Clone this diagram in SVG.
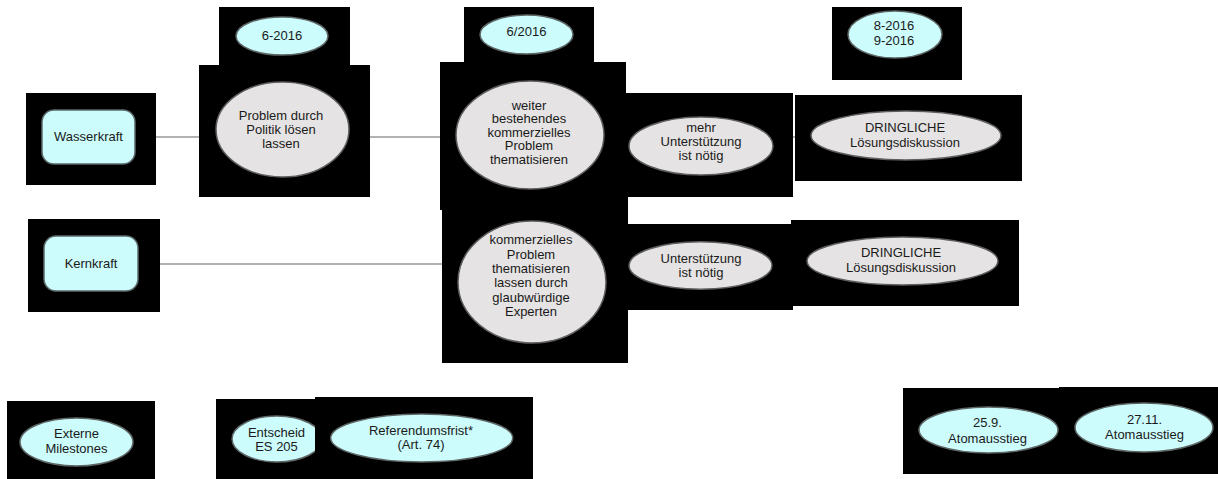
<svg xmlns="http://www.w3.org/2000/svg" width="1218" height="479" viewBox="0 0 1218 479">
  <style>
    .box { fill: #000000; }
    .topic { fill: #ccfcfc; stroke: #5b6a6a; stroke-width: 1.5; }
    .step { fill: #e5e3e3; stroke: #5e5e5e; stroke-width: 1.5; }
    .date { fill: #ccfcfc; stroke: #5e6565; stroke-width: 1.5; }
    .link { stroke: #666666; stroke-width: 1.2; fill: none; }
    text { font-family: "Liberation Sans", Arial, sans-serif; font-size: 13px; fill: #1a1a1a; text-anchor: middle; }
  </style>

  <!-- connectors -->
  <g id="connectors">
    <line class="link" x1="135" y1="137" x2="216" y2="137"/>
    <line class="link" x1="349" y1="137" x2="456" y2="137"/>
    <line class="link" x1="604" y1="137" x2="629" y2="137"/>
    <line class="link" x1="773" y1="137" x2="811" y2="137"/>
    <line class="link" x1="138" y1="264" x2="458" y2="264"/>
  </g>

  <!-- row: Wasserkraft -->
  <g id="wasserkraft">
    <rect class="box" x="26" y="93" width="130" height="92"/>
    <rect class="topic" x="42" y="110" width="93" height="54" rx="12" ry="12"/>
    <text x="88.5" y="141">Wasserkraft</text>
  </g>

  <g id="date-6-2016">
    <rect class="box" x="219" y="7" width="131" height="58"/>
    <ellipse class="date" cx="282" cy="36" rx="46" ry="19"/>
    <text x="282" y="40">6-2016</text>
  </g>

  <g id="politik">
    <rect class="box" x="199" y="65" width="171" height="132"/>
    <ellipse class="step" cx="282.5" cy="129.5" rx="66.5" ry="47.5"/>
    <text x="281" y="119.5">Problem durch</text>
    <text x="281" y="133.5">Politik lösen</text>
    <text x="281" y="147.5">lassen</text>
  </g>

  <g id="date-6-2016b">
    <rect class="box" x="464" y="7" width="130" height="55"/>
    <ellipse class="date" cx="526.5" cy="34.5" rx="46.5" ry="19.5"/>
    <text x="526.5" y="36">6/2016</text>
  </g>

  <g id="weiter">
    <rect class="box" x="440" y="62" width="186" height="148"/>
    <ellipse class="step" cx="530" cy="135" rx="74" ry="54"/>
    <text x="529" y="109.5">weiter</text>
    <text x="529" y="123">bestehendes</text>
    <text x="529" y="136.5">kommerzielles</text>
    <text x="529" y="150">Problem</text>
    <text x="529" y="163.5">thematisieren</text>
  </g>

  <g id="mehr-unterstuetzung">
    <rect class="box" x="626" y="93" width="167" height="104"/>
    <ellipse class="step" cx="701" cy="146" rx="72" ry="29"/>
    <text x="701" y="132">mehr</text>
    <text x="701" y="146">Unterstützung</text>
    <text x="701" y="160">ist nötig</text>
  </g>

  <g id="date-8-9-2016">
    <rect class="box" x="832" y="7" width="130" height="73"/>
    <ellipse class="date" cx="895" cy="34.5" rx="47" ry="23.5"/>
    <text x="894" y="30">8-2016</text>
    <text x="894" y="45">9-2016</text>
  </g>

  <g id="dringlich-1">
    <rect class="box" x="795" y="95" width="227" height="86"/>
    <ellipse class="step" cx="906" cy="135.5" rx="95" ry="24.5"/>
    <text x="905" y="131.5">DRINGLICHE</text>
    <text x="905" y="146.5">Lösungsdiskussion</text>
  </g>

  <!-- row: Kernkraft -->
  <g id="kernkraft">
    <rect class="box" x="28" y="219" width="132" height="93"/>
    <rect class="topic" x="44" y="236" width="94" height="55" rx="12" ry="12"/>
    <text x="91" y="268">Kernkraft</text>
  </g>

  <g id="experten">
    <rect class="box" x="442" y="197" width="186" height="166"/>
    <ellipse class="step" cx="532" cy="282" rx="74" ry="61"/>
    <text x="531" y="244.3">kommerzielles</text>
    <text x="531" y="258.6">Problem</text>
    <text x="531" y="272.9">thematisieren</text>
    <text x="531" y="287.2">lassen durch</text>
    <text x="531" y="301.5">glaubwürdige</text>
    <text x="531" y="315.8">Experten</text>
  </g>

  <g id="unterstuetzung">
    <rect class="box" x="628" y="224" width="165" height="86"/>
    <ellipse class="step" cx="700.5" cy="265.5" rx="71.5" ry="23.7"/>
    <text x="701" y="263">Unterstützung</text>
    <text x="701" y="277">ist nötig</text>
  </g>

  <g id="dringlich-2">
    <rect class="box" x="791" y="220" width="228" height="86"/>
    <ellipse class="step" cx="902.5" cy="261" rx="95.5" ry="24"/>
    <text x="901" y="256.7">DRINGLICHE</text>
    <text x="901" y="271.7">Lösungsdiskussion</text>
  </g>

  <!-- row: external milestones -->
  <g id="externe-milestones">
    <rect class="box" x="7" y="401" width="148" height="78"/>
    <ellipse class="date" cx="76.5" cy="442" rx="56.5" ry="24"/>
    <text x="76.5" y="438.3">Externe</text>
    <text x="76.5" y="452.7">Milestones</text>
  </g>

  <g id="entscheid">
    <rect class="box" x="216" y="399" width="100" height="80"/>
    <ellipse class="date" cx="277" cy="439" rx="45" ry="23"/>
    <text x="276.5" y="436.7">Entscheid</text>
    <text x="276.5" y="451">ES 205</text>
  </g>

  <g id="referendumsfrist">
    <rect class="box" x="315" y="397" width="218" height="82"/>
    <ellipse class="date" cx="421.7" cy="438" rx="91" ry="24"/>
    <text x="421" y="435">Referendumsfrist*</text>
    <text x="421" y="449">(Art. 74)</text>
  </g>

  <g id="atomausstieg-25-9">
    <rect class="box" x="903" y="388" width="156" height="86"/>
    <ellipse class="date" cx="988.5" cy="430" rx="69.5" ry="23"/>
    <text x="987.5" y="427.3">25.9.</text>
    <text x="987.5" y="442.7">Atomausstieg</text>
  </g>

  <g id="atomausstieg-27-11">
    <rect class="box" x="1059" y="387" width="159" height="87"/>
    <ellipse class="date" cx="1144" cy="427.5" rx="69" ry="24.5"/>
    <text x="1144.5" y="424">27.11.</text>
    <text x="1144.5" y="439.3">Atomausstieg</text>
  </g>
</svg>
